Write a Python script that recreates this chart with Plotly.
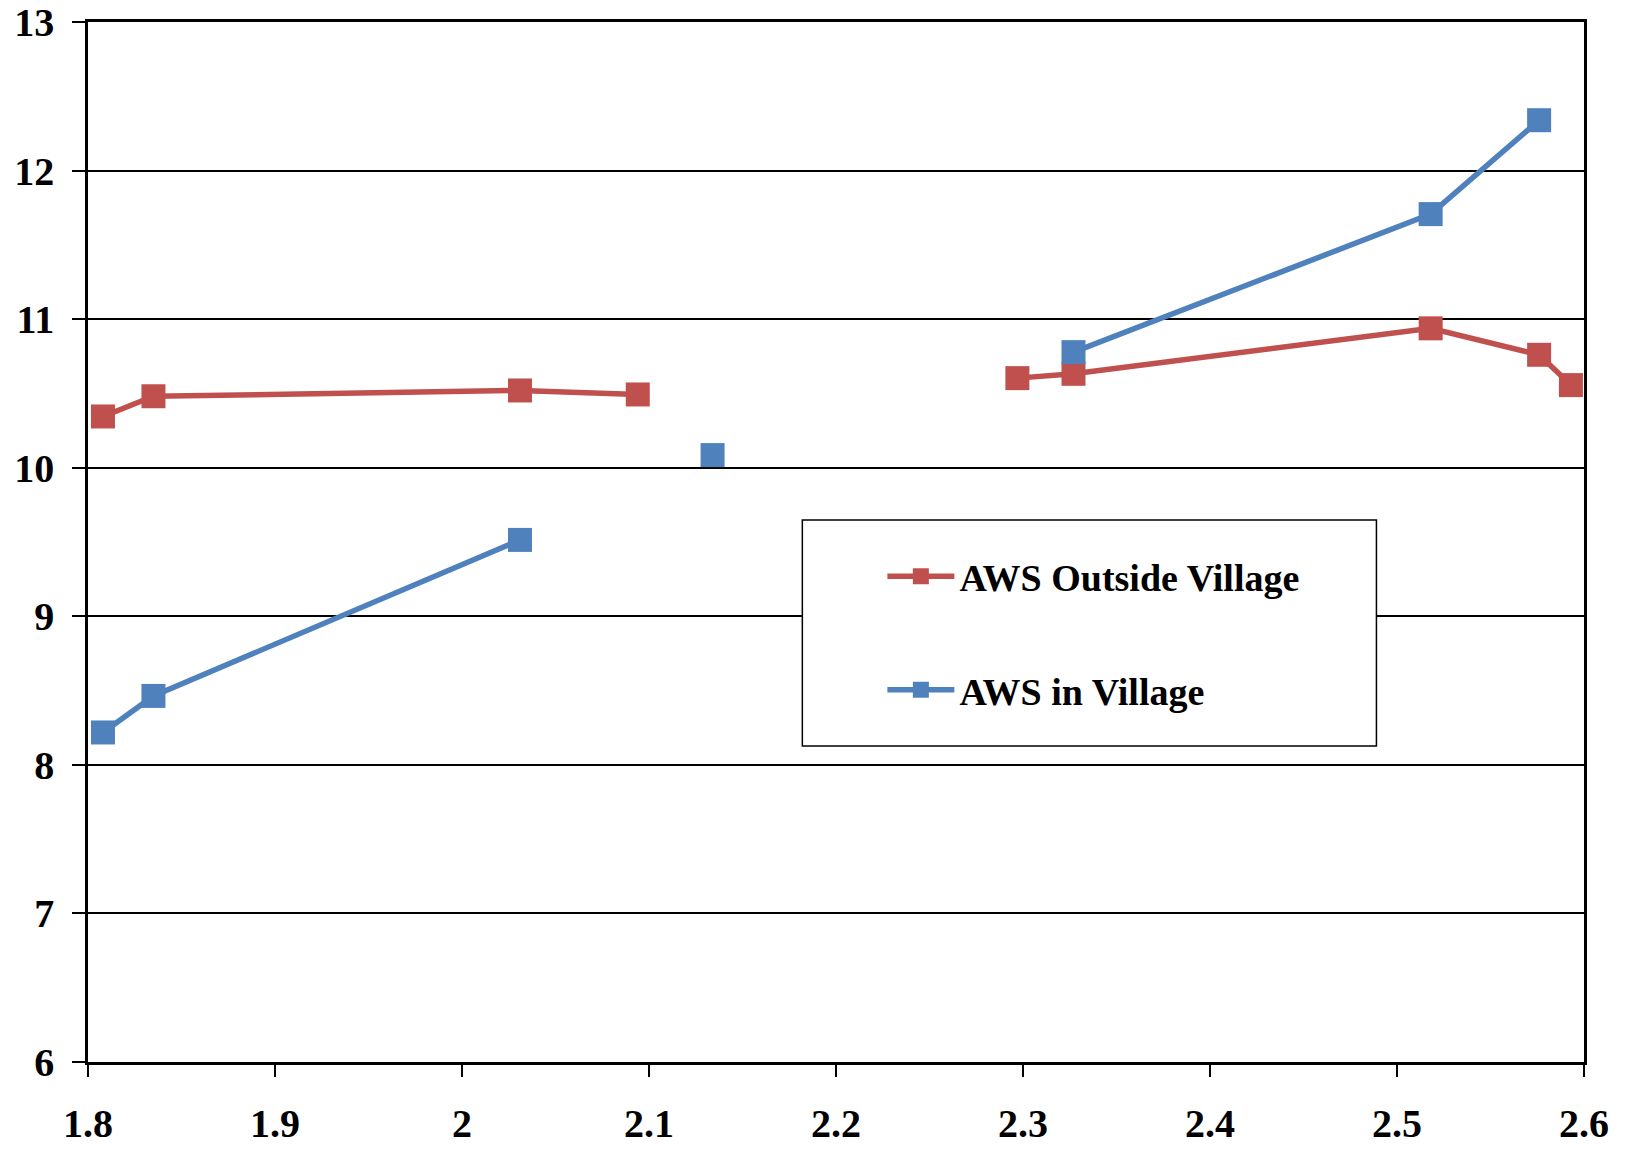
import plotly.graph_objects as go

# Data
x_vals = [1.808, 1.835, 2.031, 2.094, 2.134, 2.297, 2.327, 2.518, 2.576, 2.593]
outside_village = [10.345, 10.481, 10.520, 10.493, None, 10.603, 10.632, 10.938, 10.760, 10.556]
in_village = [8.218, 8.464, 9.514, None, 10.085, None, 10.778, 11.707, 12.339, None]

series_names = ["AWS Outside Village", "AWS in Village"]
series_colors = ["#C0504D", "#4F81BD"]

x_ticks = [1.8, 1.9, 2.0, 2.1, 2.2, 2.3, 2.4, 2.5, 2.6]
x_ticklabels = ["1.8", "1.9", "2", "2.1", "2.2", "2.3", "2.4", "2.5", "2.6"]
y_ticks = [6, 7, 8, 9, 10, 11, 12, 13]

FONT = "Liberation Serif"
FS = 40
LFS = 38

fig = go.Figure()
for name, ys, col in zip(series_names, [outside_village, in_village], series_colors):
    fig.add_trace(go.Scatter(
        x=x_vals, y=ys, name=name, mode="lines+markers",
        connectgaps=False, legendgroup=name,
        line=dict(color=col, width=5.5),
        marker=dict(symbol="square", size=24, color=col),
    ))

W, H = 1625, 1149
ml, mr, mt, mb = 88, 41, 22, 87

fig.update_layout(
    width=W, height=H,
    margin=dict(l=ml, r=mr, t=mt, b=mb),
    paper_bgcolor="white", plot_bgcolor="white",
    font=dict(family=FONT, size=FS, color="black", weight="bold"),
    showlegend=True,
    legend=dict(
        x=0.531, y=0.497, xanchor="left", yanchor="top",
        bgcolor="rgba(0,0,0,0)", borderwidth=0,
        font=dict(family=FONT, size=LFS, color="black", weight="bold"),
        tracegroupgap=61, traceorder="grouped", itemwidth=67,
    ),
    shapes=[dict(
        type="rect", xref="x", yref="y",
        x0=2.182, x1=2.489, y0=8.127, y1=9.648,
        fillcolor="white", line=dict(color="black", width=1.5), layer="above",
    )],
)

fig.update_xaxes(
    range=[1.8, 2.6], tickvals=x_ticks, ticktext=x_ticklabels,
    showgrid=False, zeroline=False, automargin=False,
    showline=True, linecolor="black", linewidth=2.5, mirror=True,
    ticks="outside", ticklen=12, tickwidth=2, tickcolor="black",
    tickfont=dict(family=FONT, size=FS, color="black", weight="bold"),
    ticklabelstandoff=12,
)
fig.update_yaxes(
    range=[6, 13], tickvals=y_ticks,
    showgrid=True, gridcolor="black", gridwidth=1.5, zeroline=False, automargin=False,
    showline=True, linecolor="black", linewidth=2.5, mirror=True,
    ticks="outside", ticklen=13, tickwidth=2, tickcolor="black",
    tickfont=dict(family=FONT, size=FS, color="black", weight="bold"),
    ticklabelstandoff=10,
)

fig.write_html(
    "out.html",
    config={"displayModeBar": False},
    post_script="document.body.style.margin='0';document.body.style.overflow='hidden';",
)
